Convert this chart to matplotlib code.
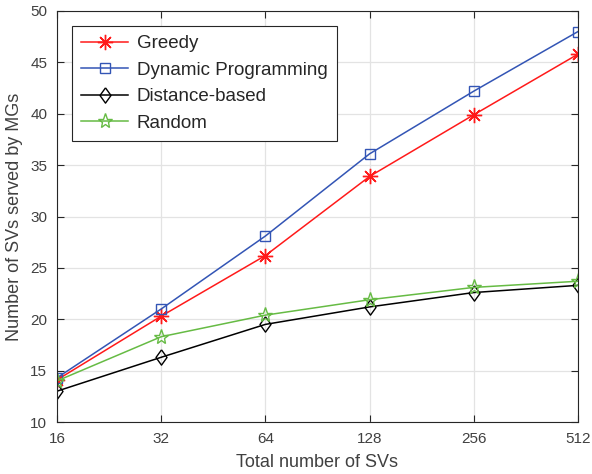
import numpy as np
import matplotlib.pyplot as plt

plt.rcParams['font.family'] = ['Liberation Sans', 'DejaVu Sans']

num_svs = [16, 32, 64, 128, 256, 512]
greedy = [14.1, 20.3, 26.2, 33.9, 39.9, 45.8]
dynamic_prog = [14.3, 21.0, 28.1, 36.1, 42.2, 48.0]
distance_based = [13.0, 16.3, 19.5, 21.2, 22.6, 23.3]
random_sel = [14.0, 18.3, 20.4, 21.9, 23.1, 23.7]

axcol = '#262626'
txtcol = '#404040'

# matlab-like diamond (a bit taller than wide)
diamond = [(0, 1), (0.72, 0), (0, -1), (-0.72, 0), (0, 1)]

fig = plt.figure(figsize=(5.92, 4.74), dpi=100)
ax = fig.add_axes([57/592, 1 - 422/474, (578 - 57)/592, (422 - 11)/474])

ax.plot(num_svs, greedy, color='#ff1a1a', marker=(8, 2, 0), markersize=11, lw=1.1,
        markeredgewidth=1.0, label='Greedy')
ax.plot(num_svs, dynamic_prog, color='#3355b5', marker='s', markersize=7.5, lw=1.1,
        markerfacecolor='none', markeredgewidth=1.0, label='Dynamic Programming')
ax.plot(num_svs, distance_based, color='black', marker=diamond, markersize=11, lw=1.1,
        markerfacecolor='none', markeredgewidth=1.0, label='Distance-based')
ax.plot(num_svs, random_sel, color='#66bb44', marker='*', markersize=11, lw=1.1,
        markerfacecolor='none', markeredgewidth=1.0, label='Random')

ax.set_xscale('log', base=2)
ax.set_xlim(16, 512)
ax.set_ylim(10, 50)
ax.set_xticks(num_svs)
ax.set_xticklabels([str(v) for v in num_svs])
ax.minorticks_off()
ax.set_yticks(np.arange(10, 51, 5))

ax.grid(True, color='#e3e3e3', lw=0.9)
ax.set_axisbelow(True)
for s in ax.spines.values():
    s.set_color(axcol)
    s.set_linewidth(0.8)
ax.tick_params(direction='in', top=True, right=True, length=5, width=0.8,
               colors=axcol, labelsize=11, labelcolor=txtcol, pad=7)

ax.set_xlabel('Total number of SVs', fontsize=13, color=txtcol, labelpad=6)
ax.set_ylabel('Number of SVs served by MGs', fontsize=13, color=txtcol, labelpad=5)

leg = ax.legend(loc='upper left', bbox_to_anchor=(0.029, 0.964), borderaxespad=0,
                fontsize=13.5, fancybox=False, framealpha=1, edgecolor=axcol,
                handlelength=2.5, borderpad=0.5, labelspacing=0.5,
                handletextpad=0.45)
leg.get_frame().set_linewidth(0.8)
for t in leg.get_texts():
    t.set_color(axcol)

fig.savefig('out.png', dpi=100)
